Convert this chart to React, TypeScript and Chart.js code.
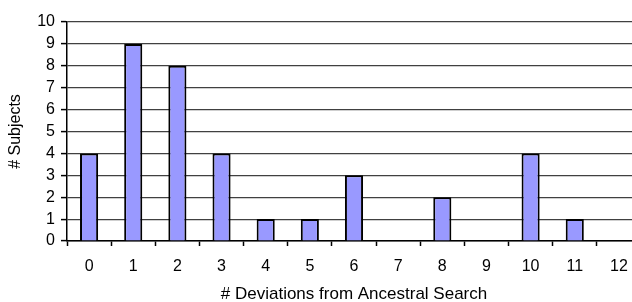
import React, { useEffect, useRef } from "react";
import { Chart, registerables } from "chart.js";

Chart.register(...registerables);

const categories: string[] = ["0", "1", "2", "3", "4", "5", "6", "7", "8", "9", "10", "11", "12"];
const subjects: number[] = [4, 9, 8, 4, 1, 1, 3, 0, 2, 0, 4, 1, 0];
const yTitle = "# Subjects";
const xTitle = "# Deviations from Ancestral Search";

const FONT = "'Liberation Sans', Arial, sans-serif";

export default function App() {
  const ref = useRef<HTMLCanvasElement | null>(null);

  useEffect(() => {
    document.body.style.margin = "0";
    const canvas = ref.current;
    if (!canvas) return;
    const chart = new Chart(canvas, {
      type: "bar",
      data: {
        labels: categories,
        datasets: [
          {
            data: subjects,
            backgroundColor: "#9999FF",
            borderColor: "#000000",
            borderWidth: 2,
            categoryPercentage: 1,
            barPercentage: 0.41,
          },
        ],
      },
      options: {
        responsive: false,
        animation: false,
        maintainAspectRatio: false,
        layout: { padding: { left: 0, right: 9, top: 22, bottom: 0 } },
        plugins: {
          legend: { display: false },
          tooltip: { enabled: false },
        },
        scales: {
          x: {
            offset: true,
            grid: {
              offset: true,
              drawOnChartArea: false,
              drawTicks: true,
              tickLength: 5,
              tickColor: "#000000",
              tickWidth: 1.5,
            },
            border: { color: "#000000", width: 1.5 },
            ticks: {
              color: "#000000",
              padding: 11,
              font: { family: FONT, size: 16 },
              maxRotation: 0,
              autoSkip: false,
            },
            title: {
              display: true,
              text: xTitle,
              color: "#000000",
              font: { family: FONT, size: 17, lineHeight: 1 },
              padding: { top: 0, bottom: -1 },
            },
            afterFit: (scale: any) => {
              scale.height = 61;
            },
          },
          y: {
            min: 0,
            max: 10,
            grid: {
              color: "#404040",
              lineWidth: 1.2,
              drawTicks: true,
              tickLength: 6,
              tickColor: "#000000",
              tickWidth: 1.5,
            },
            border: { color: "#000000", width: 1.5 },
            ticks: {
              stepSize: 1,
              autoSkip: false,
              color: "#000000",
              padding: 6,
              font: { family: FONT, size: 16 },
            },
            title: {
              display: true,
              text: yTitle,
              color: "#000000",
              font: { family: FONT, size: 16, lineHeight: 1 },
              padding: { top: 8, bottom: 0 },
            },
            afterFit: (scale: any) => {
              scale.width = 67;
            },
          },
        },
      },
    });
    return () => chart.destroy();
  }, []);

  return (
    <div
      style={{
        position: "absolute",
        left: 0,
        top: 0,
        width: 632,
        height: 302,
        overflow: "hidden",
        background: "#ffffff",
      }}
    >
      <canvas ref={ref} width={650} height={302} style={{ width: 650, height: 302, display: "block" }} />
    </div>
  );
}
